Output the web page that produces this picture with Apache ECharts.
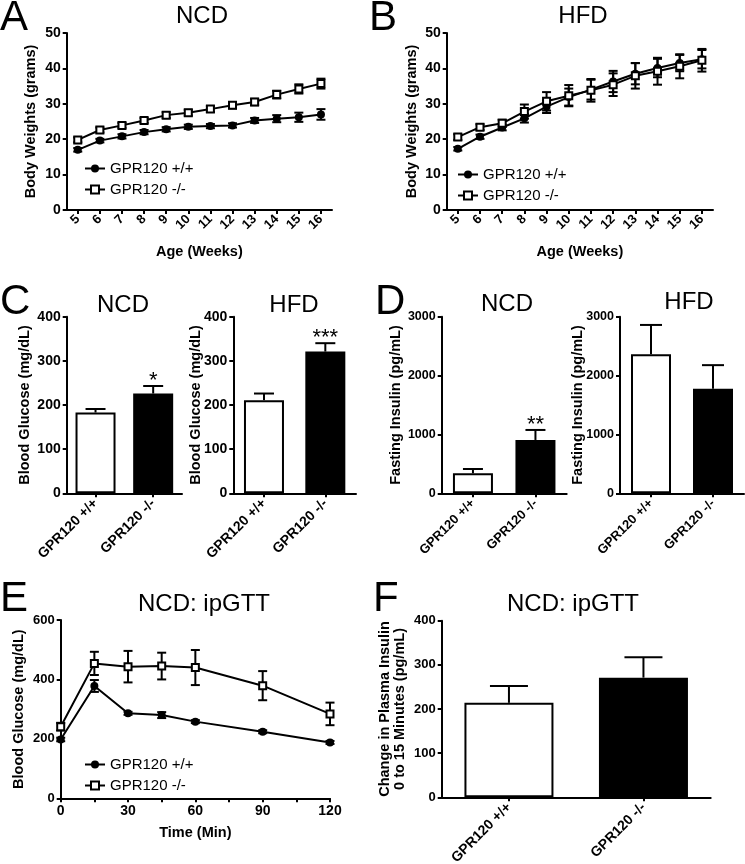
<!DOCTYPE html>
<html><head><meta charset="utf-8">
<script src="https://cdn.jsdelivr.net/npm/echarts@6/dist/echarts.min.js"></script>
<style>html,body{margin:0;padding:0;background:#fff}#c{width:745px;height:864px}</style>
</head><body><div id="c"></div>
<script>
const FONT = "'Liberation Sans', Arial, Helvetica, sans-serif";

// ---- Data ----
const weeks = ['5','6','7','8','9','10','11','12','13','14','15','16'];
const genotypes = ['GPR120 +/+', 'GPR120 -/-'];

const ncdWT    = [17.0, 19.6, 20.8, 22.0, 22.8, 23.5, 23.7, 23.9, 25.3, 25.8, 26.2, 27.0];
const ncdWTErr = [0.5, 0.5, 0.6, 0.6, 0.6, 0.6, 0.6, 0.6, 0.7, 1.0, 1.3, 1.5];
const ncdKO    = [19.8, 22.6, 23.9, 25.3, 26.8, 27.5, 28.5, 29.6, 30.5, 32.6, 34.2, 35.7];
const ncdKOErr = [0.7, 0.7, 0.7, 0.7, 0.8, 0.8, 0.8, 0.9, 0.9, 1.1, 1.3, 1.4];

const hfdWT    = [17.3, 20.7, 23.3, 25.9, 29.2, 31.9, 34.0, 36.3, 38.5, 40.1, 41.5, 42.6];
const hfdWTErr = [0.5, 0.6, 0.8, 1.2, 1.8, 2.4, 2.8, 3.0, 3.0, 2.6, 2.3, 2.6];
const hfdKO    = [20.6, 23.4, 24.5, 27.8, 30.7, 32.3, 33.8, 35.4, 37.9, 39.2, 40.6, 42.3];
const hfdKOErr = [0.8, 0.8, 1.0, 2.0, 2.6, 3.0, 3.2, 3.2, 3.6, 3.8, 3.4, 3.2];

const glucNCD = [183, 226], glucNCDErr = [8, 17], glucNCDStars = ['', '*'];
const glucHFD = [211, 321], glucHFDErr = [15, 19], glucHFDStars = ['', '***'];
const insNCD  = [340, 906], insNCDErr = [73, 170], insNCDStars = ['', '**'];
const insHFD  = [2360, 1777], insHFDErr = [500, 400], insHFDStars = ['', ''];

const gttTime  = [0, 15, 30, 45, 60, 90, 120];
const gttWT    = [198, 378, 286, 280, 258, 224, 188];
const gttWTErr = [6, 20, 5, 10, 5, 5, 5];
const gttKO    = [241, 454, 443, 445, 440, 379, 284];
const gttKOErr = [13, 39, 53, 45, 59, 49, 38];

const dInsulin = [214, 271], dInsulinErr = [38, 46];

// ---- helpers ----
const chart = echarts.init(document.getElementById('c'), null, {renderer: 'canvas'});

function grid(l, t, w, h) { return {left: l, top: t, width: w, height: h, containLabel: false, outerBoundsMode: 'none'}; }

function axisBase(extra) {
  const base = {
    gridIndex: 0,
    axisLine: {show: true, onZero: false, lineStyle: {color: '#000', width: 2}},
    axisTick: {show: true, length: 4, lineStyle: {color: '#000', width: 2}},
    splitLine: {show: false},
    axisLabel: {color: '#000', fontFamily: FONT, fontWeight: 'bold', fontSize: 13, margin: 6, formatter: v => String(v)},
    nameTextStyle: {color: '#000', fontFamily: FONT, fontWeight: 'bold', fontSize: 14.5},
    nameLocation: 'middle',
    nameMoveOverlap: false,
    silent: true
  };
  for (const k in extra) {
    if (typeof extra[k] === 'object' && !Array.isArray(extra[k]) && base[k]) base[k] = Object.assign({}, base[k], extra[k]);
    else base[k] = extra[k];
  }
  return base;
}

function yVal(gi, max, interval, name, gap, fs) {
  return axisBase({gridIndex: gi, type: 'value', min: 0, max: max, interval: interval, name: name, nameGap: gap,
    axisLabel: {fontSize: fs}});
}
function xWeeks(gi) {
  return axisBase({gridIndex: gi, type: 'category', data: weeks, boundaryGap: true,
    axisTick: {alignWithLabel: true}, axisLabel: {rotate: 45, interval: 0, fontSize: 13, margin: 7},
    name: 'Age (Weeks)', nameGap: 34});
}
function xGeno(gi, fs) {
  return axisBase({gridIndex: gi, type: 'category', data: genotypes, boundaryGap: true,
    axisTick: {alignWithLabel: true}, axisLabel: {rotate: 45, interval: 0, fontSize: fs, margin: 8}});
}

function errRender(capW, both, stars) {
  return function (params, api) {
    const x = api.value(0), v = api.value(1), e = api.value(2);
    const c = api.coord([x, v]);
    const hi = api.coord([x, v + e])[1];
    const lo = both ? api.coord([x, v - e])[1] : c[1];
    const st = {stroke: '#000', lineWidth: 2};
    const ch = [
      {type: 'line', shape: {x1: c[0], y1: hi, x2: c[0], y2: lo}, style: st},
      {type: 'line', shape: {x1: c[0] - capW / 2, y1: hi, x2: c[0] + capW / 2, y2: hi}, style: st}
    ];
    if (both) ch.push({type: 'line', shape: {x1: c[0] - capW / 2, y1: lo, x2: c[0] + capW / 2, y2: lo}, style: st});
    if (stars && stars[params.dataIndex]) {
      ch.push({type: 'text', style: {x: c[0], y: hi - 5, text: stars[params.dataIndex], fill: '#000',
        font: '22px ' + FONT, align: 'center', verticalAlign: 'middle'}});
    }
    return {type: 'group', children: ch};
  };
}

function errSeries(gi, xs, vals, errs, capW, both, stars) {
  return {type: 'custom', xAxisIndex: gi, yAxisIndex: gi, silent: true, clip: false, z: 3,
    renderItem: errRender(capW, both, stars),
    data: vals.map((v, i) => [xs ? xs[i] : i, v, errs[i]])};
}

function lineSeries(gi, name, xs, vals, open) {
  return {type: 'line', name: name, xAxisIndex: gi, yAxisIndex: gi, silent: true, z: 4,
    data: vals.map((v, i) => xs ? [xs[i], v] : v),
    symbol: open ? 'rect' : 'circle', symbolSize: open ? 7 : 8,
    itemStyle: open ? {color: '#fff', borderColor: '#000', borderWidth: 2} : {color: '#000', borderColor: '#000', borderWidth: 0},
    lineStyle: {color: '#000', width: 2}, emphasis: {disabled: true}};
}

function barSeries(gi, vals, w) {
  return {type: 'bar', xAxisIndex: gi, yAxisIndex: gi, barWidth: w, silent: true, z: 2,
    data: vals.map((v, i) => ({value: v, itemStyle: {color: i === 0 ? '#fff' : '#000', borderColor: '#000', borderWidth: 2}})),
    emphasis: {disabled: true}};
}

function legend(l, t) {
  return {left: l, top: t, orient: 'vertical', itemGap: 6, itemWidth: 20, itemHeight: 10, selectedMode: false,
    data: genotypes, textStyle: {fontSize: 15, color: '#000', fontFamily: FONT}};
}

function txt(x, y, s, size, weight) {
  return {type: 'text', x: x, y: y, silent: true,
    style: {text: s, fill: '#000', font: (weight || 'normal') + ' ' + size + 'px ' + FONT, align: 'center', verticalAlign: 'middle'}};
}
function letter(x, y, s) {
  return {type: 'text', x: x, y: y, silent: true,
    style: {text: s, fill: '#000', font: 'normal 42px ' + FONT, align: 'left', verticalAlign: 'middle'}};
}

const option = {
  animation: false,
  backgroundColor: '#fff',
  grid: [
    grid(66.7, 33, 265.3, 177),      // A
    grid(446.7, 33, 266.3, 177),     // B
    grid(66.7, 316.7, 115.3, 176.6), // C NCD
    grid(233.3, 316.7, 122.7, 176.6),// C HFD
    grid(441.7, 316.7, 125, 176.6),  // D NCD
    grid(620, 316.7, 124, 176.6),    // D HFD
    grid(60.7, 620, 269.3, 178.3),   // E
    grid(441.7, 620.7, 269, 176.6)   // F
  ],
  xAxis: [
    xWeeks(0), xWeeks(1), xGeno(2, 14), xGeno(3, 14), xGeno(4, 13), xGeno(5, 13),
    axisBase({gridIndex: 6, type: 'value', min: 0, max: 120, interval: 15,
      axisLabel: {fontSize: 14, formatter: v => (v % 30 === 0 ? String(v) : '')}, name: 'Time (Min)', nameGap: 27}),
    xGeno(7, 14)
  ],
  yAxis: [
    yVal(0, 50, 10, 'Body Weights (grams)', 28, 14),
    yVal(1, 50, 10, 'Body Weights (grams)', 27, 14),
    yVal(2, 400, 100, 'Blood Glucose (mg/dL)', 34, 14),
    yVal(3, 400, 100, 'Blood Glucose (mg/dL)', 30, 14),
    yVal(4, 3000, 1000, 'Fasting Insulin (pg/mL)', 38, 12.5),
    yVal(5, 3000, 1000, 'Fasting Insulin (pg/mL)', 35, 12.5),
    yVal(6, 600, 200, 'Blood Glucose (mg/dL)', 34, 13),
    yVal(7, 400, 100, 'Change in Plasma Insulin\n0 to 15 Minutes (pg/mL)', 34, 13)
  ],
  legend: [legend(79, 156), legend(452, 162), legend(79, 752)],
  series: [
    errSeries(0, null, ncdWT, ncdWTErr, 9, true),
    errSeries(0, null, ncdKO, ncdKOErr, 9, true),
    lineSeries(0, genotypes[0], null, ncdWT, false),
    lineSeries(0, genotypes[1], null, ncdKO, true),

    errSeries(1, null, hfdWT, hfdWTErr, 9, true),
    errSeries(1, null, hfdKO, hfdKOErr, 9, true),
    lineSeries(1, genotypes[0], null, hfdWT, false),
    lineSeries(1, genotypes[1], null, hfdKO, true),

    barSeries(2, glucNCD, 40), errSeries(2, null, glucNCD, glucNCDErr, 20, false, glucNCDStars),
    barSeries(3, glucHFD, 40), errSeries(3, null, glucHFD, glucHFDErr, 20, false, glucHFDStars),
    barSeries(4, insNCD, 40), errSeries(4, null, insNCD, insNCDErr, 20, false, insNCDStars),
    barSeries(5, insHFD, 40), errSeries(5, null, insHFD, insHFDErr, 22, false, insHFDStars),

    errSeries(6, gttTime, gttWT, gttWTErr, 9, true),
    errSeries(6, gttTime, gttKO, gttKOErr, 9, true),
    lineSeries(6, genotypes[0], gttTime, gttWT, false),
    lineSeries(6, genotypes[1], gttTime, gttKO, true),

    barSeries(7, dInsulin, 89), errSeries(7, null, dInsulin, dInsulinErr, 38, false)
  ],
  graphic: [
    letter(0, 18, 'A'), letter(369, 18, 'B'), letter(0, 302, 'C'), letter(375, 302, 'D'),
    letter(0, 599, 'E'), letter(373, 599, 'F'),
    txt(202, 16, 'NCD', 24), txt(583, 16, 'HFD', 24),
    txt(123, 305, 'NCD', 24), txt(294, 305, 'HFD', 24),
    txt(507, 304, 'NCD', 24), txt(689, 302, 'HFD', 24),
    txt(204, 604, 'NCD: ipGTT', 24), txt(573, 604, 'NCD: ipGTT', 24)
  ]
};
chart.setOption(option);
</script></body></html>
